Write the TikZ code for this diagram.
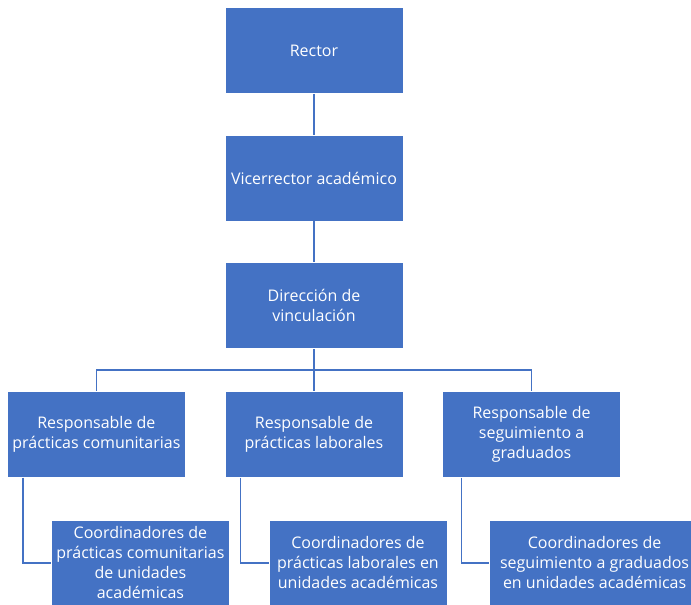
\documentclass[tikz,border=0pt]{standalone}
\usepackage{fontspec}
\setmainfont{Open Sans}
\usetikzlibrary{positioning}
\definecolor{orgblue}{HTML}{4472C4}

\begin{document}
\begin{tikzpicture}[x=1pt, y=1pt,
    box/.style={rectangle, draw=white, line width=0.6pt, fill=orgblue, text=white, minimum width=178pt, minimum height=86pt, align=center, inner sep=2pt, font=\fontsize{16}{20}\selectfont},
    link/.style={draw=orgblue, line width=1.4pt},
    node distance=41pt and 39pt
    ]
    \useasboundingbox (0,0) rectangle (691,-605);
    \node[box] (rector) at (314,-50.5) {Rector};
    \node[box, below=of rector] (vice) {Vicerrector académico};
    \node[box, below=of vice] (dir) {Dirección de\\vinculación};
    \node[box, below=42pt of dir] (resp2) {Responsable de\\prácticas laborales};
    \node[box, left=of resp2] (resp1) {Responsable de\\prácticas comunitarias};
    \node[box, right=of resp2] (resp3) {Responsable de\\seguimiento a\\graduados};
    \node[box, below right=42pt and 44pt of resp1.south west, anchor=north west] (coord1) {Coordinadores de\\prácticas comunitarias\\de unidades\\académicas};
    \node[box, below right=42pt and 44pt of resp2.south west, anchor=north west] (coord2) {Coordinadores de\\prácticas laborales en\\unidades académicas};
    \node[box, minimum width=210pt, below right=42pt and 47pt of resp3.south west, anchor=north west] (coord3) {Coordinadores de\\seguimiento a graduados\\en unidades académicas};
    \coordinate[below=21pt of dir.south] (bus);

    \draw[link] (rector) -- (vice);
    \draw[link] (vice) -- (dir);
    \draw[link] (dir) -- (bus);
    \draw[link] (bus) -| (resp1);
    \draw[link] (bus) -- (resp2);
    \draw[link] (bus) -| (resp3);

    \draw[link] ([xshift=16pt]resp1.south west) |- (coord1);
    \draw[link] ([xshift=16pt]resp2.south west) |- (coord2);
    \draw[link] ([xshift=19pt]resp3.south west) |- (coord3);
\end{tikzpicture}
\end{document}
